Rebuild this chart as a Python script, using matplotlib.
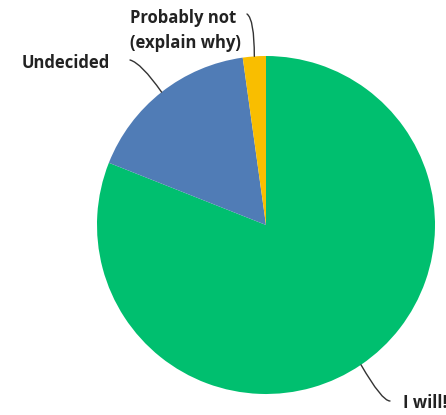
import matplotlib
matplotlib.use("Agg")
import matplotlib.pyplot as plt
import numpy as np

labels = ["I will!", "Undecided", "Probably not\n(explain why)"]
values = [81.0, 16.8, 2.2]
colors = ["#00BF6F", "#507CB6", "#F9BE00"]

W, H = 446, 415
fig = plt.figure(figsize=(W / 100, H / 100), dpi=100)
ax = fig.add_axes([0, 0, 1, 1])

cx, cy, r = 266, H - 225, 169
wedges, _ = ax.pie(values, colors=colors, startangle=90, counterclock=False,
                   center=(cx, cy), radius=r, frame=True,
                   wedgeprops=dict(linewidth=0))
ax.set_xlim(0, W)
ax.set_ylim(0, H)
ax.set_aspect("equal")
ax.axis("off")

# label text positions (pixels from top-left) and curve style
text_pos = {
    "I will!": (403, 408, "angle3,angleA=0,angleB=-60"),
    "Undecided": (22, 68, "angle3,angleA=-15,angleB=125"),
    "Probably not\n(explain why)": (130, 48, "angle3,angleA=-35,angleB=90"),
}
text_end = {
    "I will!": (390, 401),
    "Undecided": (130, 60),
    "Probably not\n(explain why)": (247, 14),
}

for w, lab in zip(wedges, labels):
    mid = np.deg2rad((w.theta1 + w.theta2) / 2)
    ax_x = cx + r * np.cos(mid)
    ax_y = cy + r * np.sin(mid)
    tx, ty, cs = text_pos[lab]
    ex, ey = text_end[lab]
    ax.text(tx, H - ty, lab, ha="left", va="baseline", fontsize=12,
            fontweight="bold", family="Open Sans", color="#222222",
            linespacing=1.5)
    ax.annotate("", xy=(ax_x, ax_y), xytext=(ex, H - ey),
                arrowprops=dict(arrowstyle="-", color="#333333", lw=1.0,
                                connectionstyle=cs, shrinkA=0, shrinkB=0))

fig.savefig("out.png", dpi=100)
